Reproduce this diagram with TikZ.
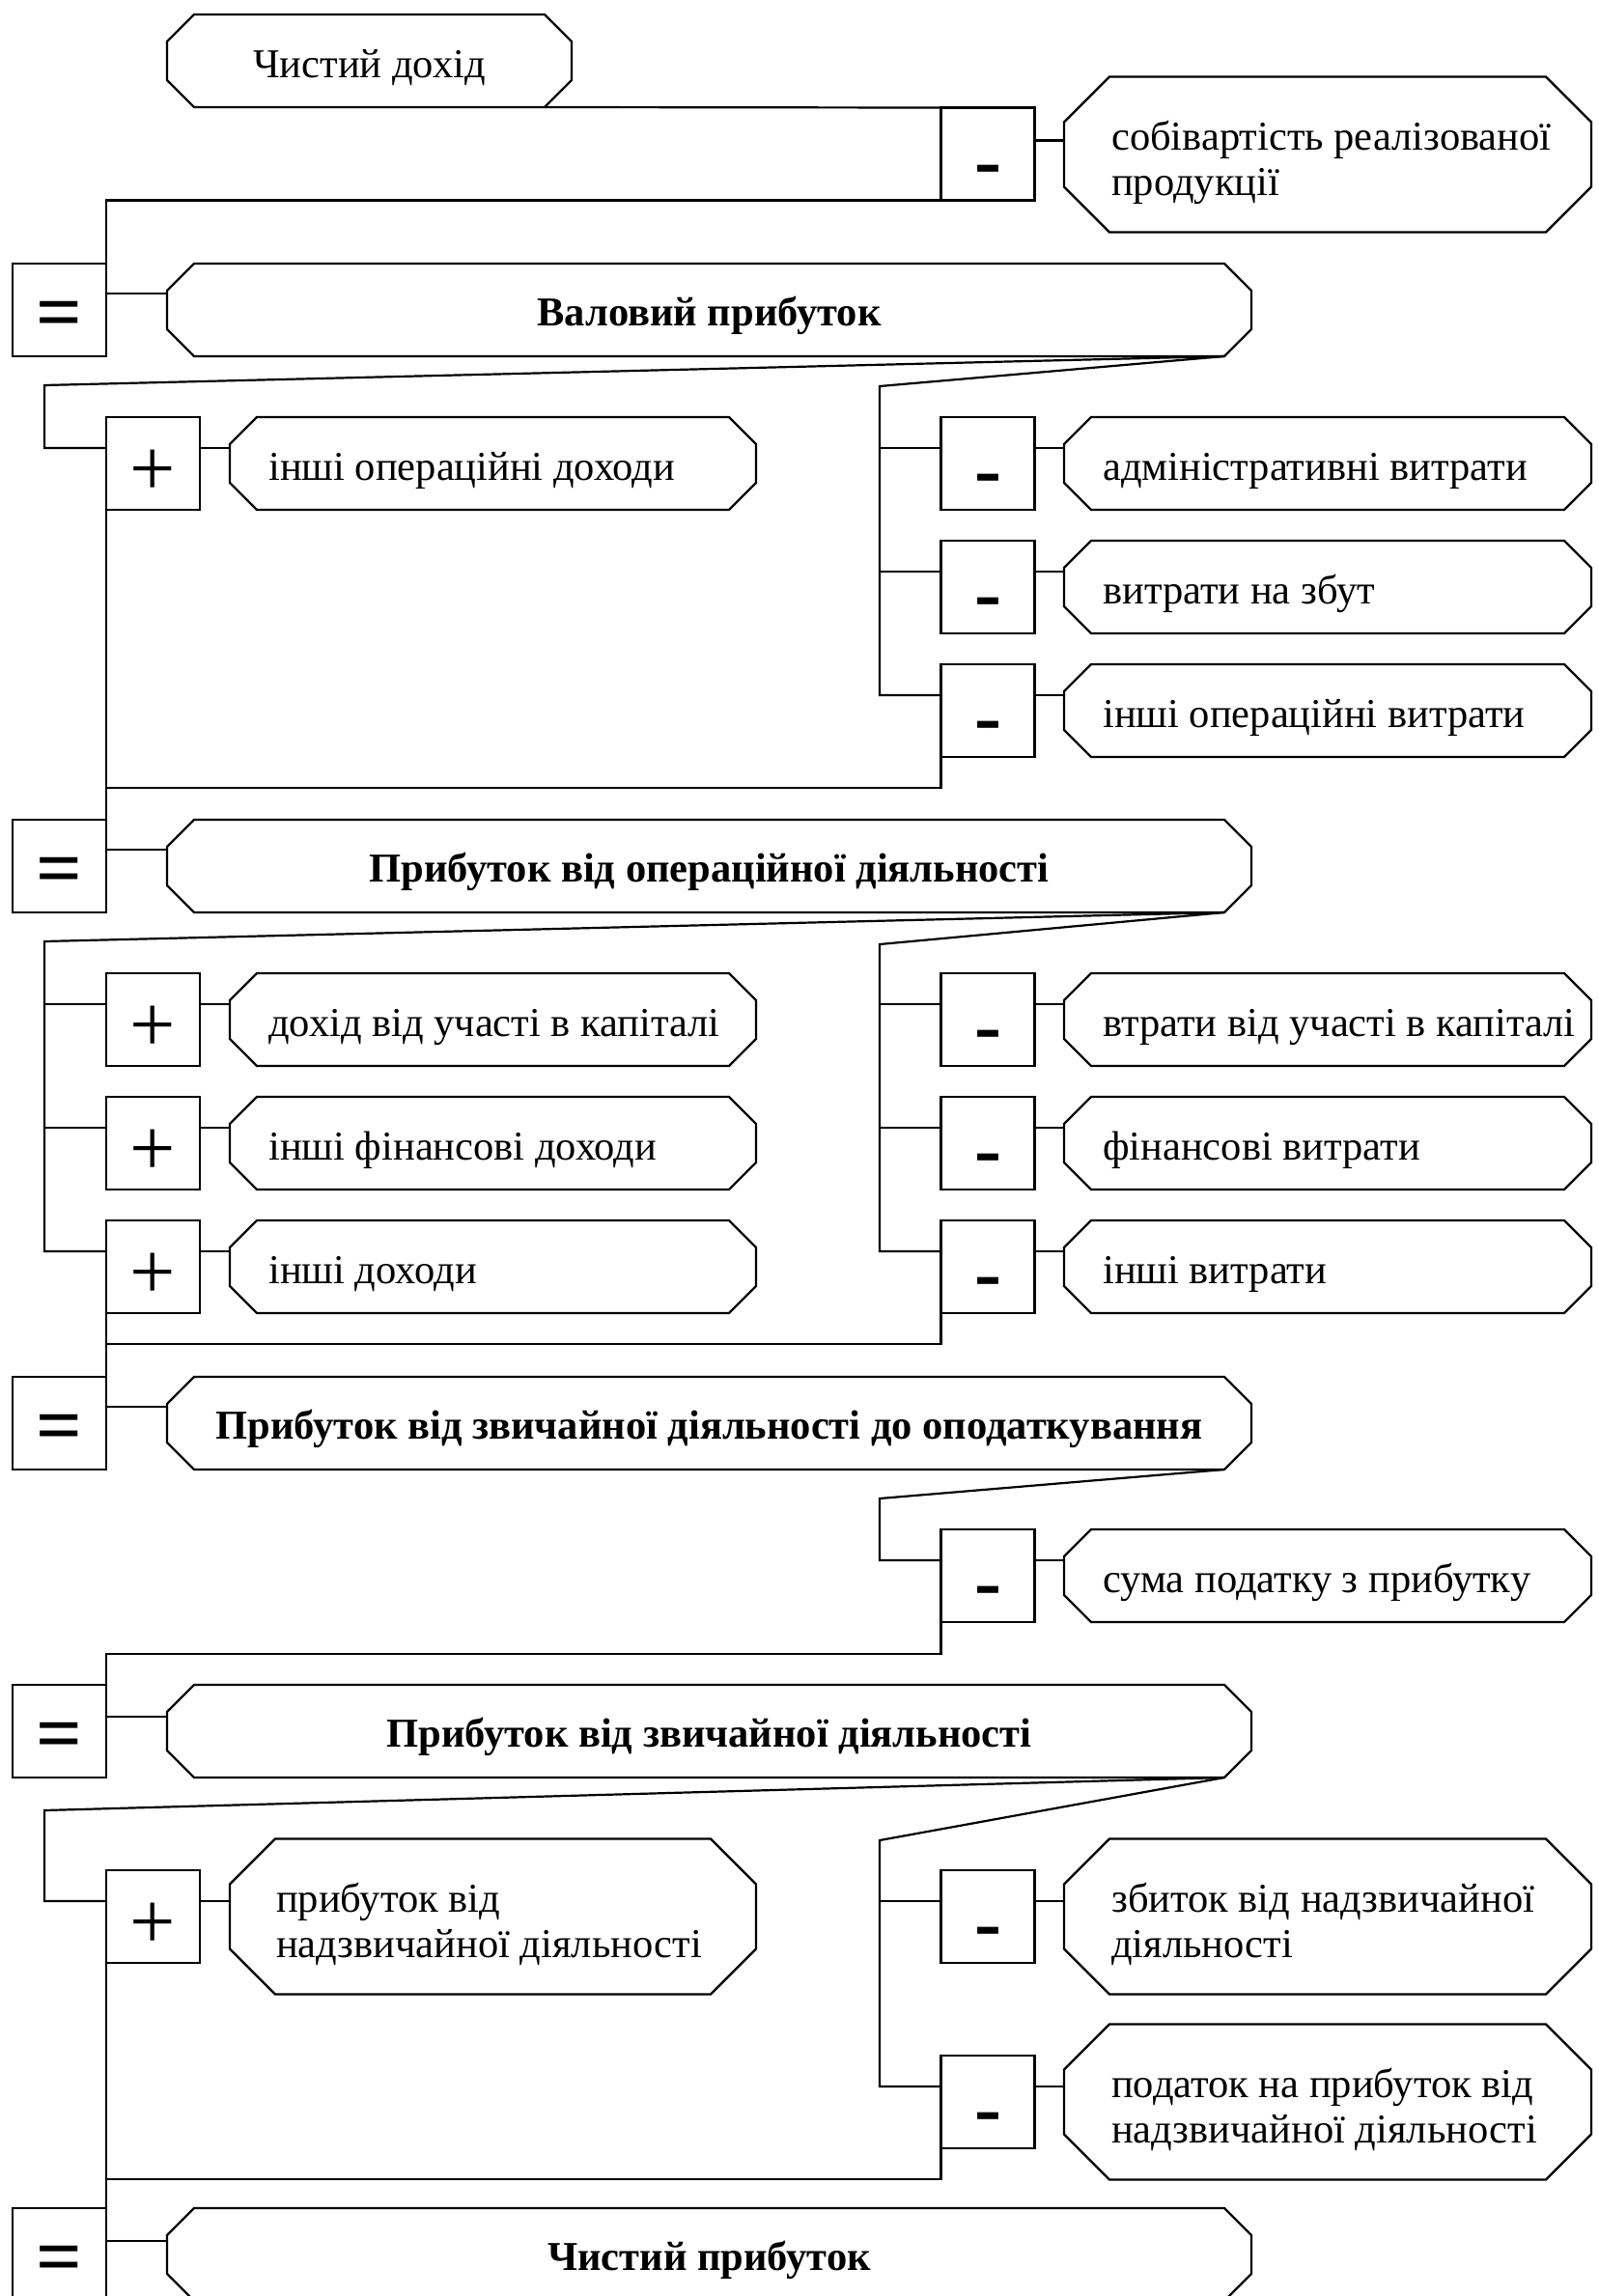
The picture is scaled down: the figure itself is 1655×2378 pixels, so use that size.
\documentclass[tikz,border=0pt]{standalone}
\usepackage{fontspec}
\setmainfont{Liberation Serif}
\newcommand\drawoct[2]{\draw[ln,fill=white] ([xshift=#2]#1.north west) -- ([xshift=-#2]#1.north east) -- ([yshift=-#2]#1.north east) -- ([yshift=#2]#1.south east) -- ([xshift=-#2]#1.south east) -- ([xshift=#2]#1.south west) -- ([yshift=#2]#1.south west) -- ([yshift=-#2]#1.north west) -- cycle;}
\begin{document}
\begin{tikzpicture}[x=1pt,y=-1pt,
  ln/.style={line width=2.2pt,line join=miter},
  sbox/.style={draw,line width=2.2pt,minimum width=97pt,minimum height=96pt,inner sep=0pt,outer sep=0pt},
  octn/.style={minimum height=96pt,inner sep=0pt,outer sep=0pt},
  big/.style={octn,minimum width=1123pt},
  lo/.style={octn,minimum width=545pt},
  ro/.style={octn,minimum width=546pt},
  tall/.style={minimum height=161pt},
  txt/.style={font=\fontsize{42.5}{47}\selectfont,inner sep=0pt},
  btxt/.style={font=\fontsize{42.5}{47}\selectfont\bfseries,inner sep=0pt},
  eqs/.style={font=\fontsize{84}{90}\selectfont\bfseries,inner sep=0pt},
  pls/.style={font=\fontsize{84}{90}\selectfont,inner sep=0pt},
  mns/.style={font=\fontsize{84}{90}\selectfont\bfseries,inner sep=0pt}
]
\useasboundingbox (0,0) rectangle (1655,2378);
\clip (0,0) rectangle (1655,2378);

% ---------- nodes: section 1
\node[octn,minimum width=419pt] (chd) at (382.5,63) {};
\node[sbox] (m1) at (1023,159.5) {};
\node[ro,tall] (o1) at (1375,160) {};
\node[sbox] (e1) at (61.5,321) {};
\node[big] (r1) at (734.5,321) {};
% section 2
\node[sbox] (p21) at (158.5,480) {};
\node[lo] (o21) at (510.5,480) {};
\node[sbox] (m21) at (1023,480) {};
\node[sbox] (m22) at (1023,608) {};
\node[sbox] (m23) at (1023,736) {};
\node[ro] (q21) at (1375,480) {};
\node[ro] (q22) at (1375,608) {};
\node[ro] (q23) at (1375,736) {};
\node[sbox] (e2) at (61.5,897) {};
\node[big] (r2) at (734.5,897) {};
% section 3
\node[sbox] (p31) at (158.5,1056) {};
\node[sbox] (p32) at (158.5,1184) {};
\node[sbox] (p33) at (158.5,1312) {};
\node[lo] (o31) at (510.5,1056) {};
\node[lo] (o32) at (510.5,1184) {};
\node[lo] (o33) at (510.5,1312) {};
\node[sbox] (m31) at (1023,1056) {};
\node[sbox] (m32) at (1023,1184) {};
\node[sbox] (m33) at (1023,1312) {};
\node[ro] (q31) at (1375,1056) {};
\node[ro] (q32) at (1375,1184) {};
\node[ro] (q33) at (1375,1312) {};
\node[sbox] (e3) at (61.5,1474) {};
\node[big] (r3) at (734.5,1474) {};
% section 4
\node[sbox] (m4) at (1023,1632) {};
\node[ro] (q4) at (1375,1632) {};
\node[sbox] (e4) at (61.5,1793) {};
\node[big] (r4) at (734.5,1793) {};
% section 5
\node[sbox] (p5) at (158.5,1985) {};
\node[lo,tall] (o5) at (510.5,1985) {};
\node[sbox] (m51) at (1023,1985) {};
\node[sbox] (m52) at (1023,2177) {};
\node[ro,tall] (q51) at (1375,1985) {};
\node[ro,tall] (q52) at (1375,2177) {};
\node[sbox] (e5) at (61.5,2335) {};
\node[big] (r5) at (734.5,2335) {};

% ---------- octagon outlines
\drawoct{chd}{28pt}
\drawoct{o1}{47pt}
\drawoct{r1}{28pt}
\drawoct{o21}{28pt}
\drawoct{q21}{28pt}
\drawoct{q22}{28pt}
\drawoct{q23}{28pt}
\drawoct{r2}{28pt}
\drawoct{o31}{28pt}
\drawoct{o32}{28pt}
\drawoct{o33}{28pt}
\drawoct{q31}{28pt}
\drawoct{q32}{28pt}
\drawoct{q33}{28pt}
\drawoct{r3}{28pt}
\drawoct{q4}{28pt}
\drawoct{r4}{28pt}
\drawoct{o5}{47pt}
\drawoct{q51}{47pt}
\drawoct{q52}{47pt}
\drawoct{r5}{28pt}

% ---------- signs
\foreach \b in {e1,e2,e3,e4,e5}{\node[eqs] (\b s) at ([yshift=-11pt]\b.center) {=};}
\foreach \b in {p21,p31,p32,p33,p5}{\node[pls] (\b s) at ([yshift=-10pt]\b.center) {+};}
\foreach \b in {m1,m21,m22,m23,m31,m32,m33,m4,m51,m52}{\node[mns] (\b s) at ([yshift=-23pt]\b.center) {-};}

% ---------- texts
\node[txt,anchor=base] (chdt) at (382.5,80) {Чистий дохід};
\node[txt,anchor=base west,align=left] (o1t) at (1151,202) {собівартість реалізованої\\продукції};
\node[btxt,anchor=base] (r1t) at (734.5,337) {Валовий прибуток};
\node[txt,anchor=base west] (o21t) at (278,497) {інші операційні доходи};
\node[txt,anchor=base west] (q21t) at (1142,497) {адміністративні витрати};
\node[txt,anchor=base west] (q22t) at (1142,625) {витрати на збут};
\node[txt,anchor=base west] (q23t) at (1142,753) {інші операційні витрати};
\node[btxt,anchor=base] (r2t) at (734.5,913) {Прибуток від операційної діяльності};
\node[txt,anchor=base west] (o31t) at (278,1073) {дохід від участі в капіталі};
\node[txt,anchor=base west] (o32t) at (278,1201) {інші фінансові доходи};
\node[txt,anchor=base west] (o33t) at (278,1329) {інші доходи};
\node[txt,anchor=base west] (q31t) at (1142,1073) {втрати від участі в капіталі};
\node[txt,anchor=base west] (q32t) at (1142,1201) {фінансові витрати};
\node[txt,anchor=base west] (q33t) at (1142,1329) {інші витрати};
\node[btxt,anchor=base] (r3t) at (734.5,1490) {Прибуток від звичайної діяльності до оподаткування};
\node[txt,anchor=base west] (q4t) at (1142,1649) {сума податку з прибутку};
\node[btxt,anchor=base] (r4t) at (734.5,1809) {Прибуток від звичайної діяльності};
\node[txt,anchor=base west,align=left] (o5t) at (286,2027) {прибуток від\\надзвичайної діяльності};
\node[txt,anchor=base west,align=left] (q51t) at (1151,2027) {збиток від надзвичайної\\діяльності};
\node[txt,anchor=base west,align=left] (q52t) at (1151,2219) {податок на прибуток від\\надзвичайної діяльності};
\node[btxt,anchor=base] (r5t) at (734.5,2351) {Чистий прибуток};

% ---------- connectors: section 1
\draw[ln] ([xshift=-28pt]chd.south east) -- (m1.north west);
\coordinate (m1r) at ([yshift=-34pt]m1.north east);
\draw[ln] (m1r) -- (m1r -| o1.west);
\draw[ln] (m1.south west) -| (e1.north east);
\coordinate (e1r) at ([yshift=-31pt]e1.north east);
\draw[ln] (e1r) -- (e1r -| r1.west);

% section 2
\coordinate (r1b) at ([xshift=-28pt]r1.south east);
\coordinate (L2) at (46,399);
\coordinate (R2) at (911,400);
\foreach \b in {p21,m21,m22,m23}{
  \coordinate (\b l) at ([yshift=-32pt]\b.north west);
  \coordinate (\b r) at ([yshift=-32pt]\b.north east);}
\draw[ln] (r1b) -- (L2) |- (p21l);
\draw[ln] (p21r) -- (p21r -| o21.west);
\draw[ln] (p21.south west) -- (e2.north east);
\draw[ln] (r1b) -- (R2) |- (m23l);
\draw[ln] (m21l) -- (m21l -| R2);
\draw[ln] (m22l) -- (m22l -| R2);
\draw[ln] (m21r) -- (m21r -| q21.west);
\draw[ln] (m22r) -- (m22r -| q22.west);
\draw[ln] (m23r) -- (m23r -| q23.west);
\coordinate (m23d) at ([yshift=-32pt]m23.south west);
\draw[ln] (m23.south west) -- (m23d) -- (m23d -| e2.north east);
\coordinate (e2r) at ([yshift=-31pt]e2.north east);
\draw[ln] (e2r) -- (e2r -| r2.west);

% section 3
\coordinate (r2b) at ([xshift=-28pt]r2.south east);
\coordinate (L3) at (46,975);
\coordinate (R3) at (911,978);
\foreach \b in {p31,p32,p33,m31,m32,m33}{
  \coordinate (\b l) at ([yshift=-32pt]\b.north west);
  \coordinate (\b r) at ([yshift=-32pt]\b.north east);}
\draw[ln] (r2b) -- (L3) |- (p33l);
\draw[ln] (p31l) -- (p31l -| L3);
\draw[ln] (p32l) -- (p32l -| L3);
\draw[ln] (p31r) -- (p31r -| o31.west);
\draw[ln] (p32r) -- (p32r -| o32.west);
\draw[ln] (p33r) -- (p33r -| o33.west);
\draw[ln] (p33.south west) -- (e3.north east);
\draw[ln] (r2b) -- (R3) |- (m33l);
\draw[ln] (m31l) -- (m31l -| R3);
\draw[ln] (m32l) -- (m32l -| R3);
\draw[ln] (m31r) -- (m31r -| q31.west);
\draw[ln] (m32r) -- (m32r -| q32.west);
\draw[ln] (m33r) -- (m33r -| q33.west);
\coordinate (m33d) at ([yshift=-32pt]m33.south west);
\draw[ln] (m33.south west) -- (m33d) -- (m33d -| e3.north east);
\coordinate (e3r) at ([yshift=-31pt]e3.north east);
\draw[ln] (e3r) -- (e3r -| r3.west);

% section 4
\coordinate (r3b) at ([xshift=-28pt]r3.south east);
\coordinate (R4) at (911,1552);
\coordinate (m4l) at ([yshift=-32pt]m4.north west);
\coordinate (m4r) at ([yshift=-32pt]m4.north east);
\draw[ln] (r3b) -- (R4) |- (m4l);
\draw[ln] (m4r) -- (m4r -| q4.west);
\coordinate (m4d) at ([yshift=-33pt]m4.south west);
\draw[ln] (m4.south west) -- (m4d) -| (e4.north east);
\coordinate (e4r) at ([yshift=-33pt]e4.north east);
\draw[ln] (e4r) -- (e4r -| r4.west);

% section 5
\coordinate (r4b) at ([xshift=-28pt]r4.south east);
\coordinate (L5) at (46,1875);
\coordinate (R5) at (911,1906);
\foreach \b in {p5,m51,m52}{
  \coordinate (\b l) at ([yshift=-32pt]\b.north west);
  \coordinate (\b r) at ([yshift=-32pt]\b.north east);}
\draw[ln] (r4b) -- (L5) |- (p5l);
\draw[ln] (p5r) -- (p5r -| o5.west);
\draw[ln] (p5.south west) -- (e5.north east);
\draw[ln] (r4b) -- (R5) |- (m52l);
\draw[ln] (m51l) -- (m51l -| R5);
\draw[ln] (m51r) -- (m51r -| q51.west);
\draw[ln] (m52r) -- (m52r -| q52.west);
\coordinate (m52d) at ([yshift=-32pt]m52.south west);
\draw[ln] (m52.south west) -- (m52d) -- (m52d -| e5.north east);
\coordinate (e5r) at ([yshift=-34pt]e5.north east);
\draw[ln] (e5r) -- (e5r -| r5.west);
\end{tikzpicture}
\end{document}
